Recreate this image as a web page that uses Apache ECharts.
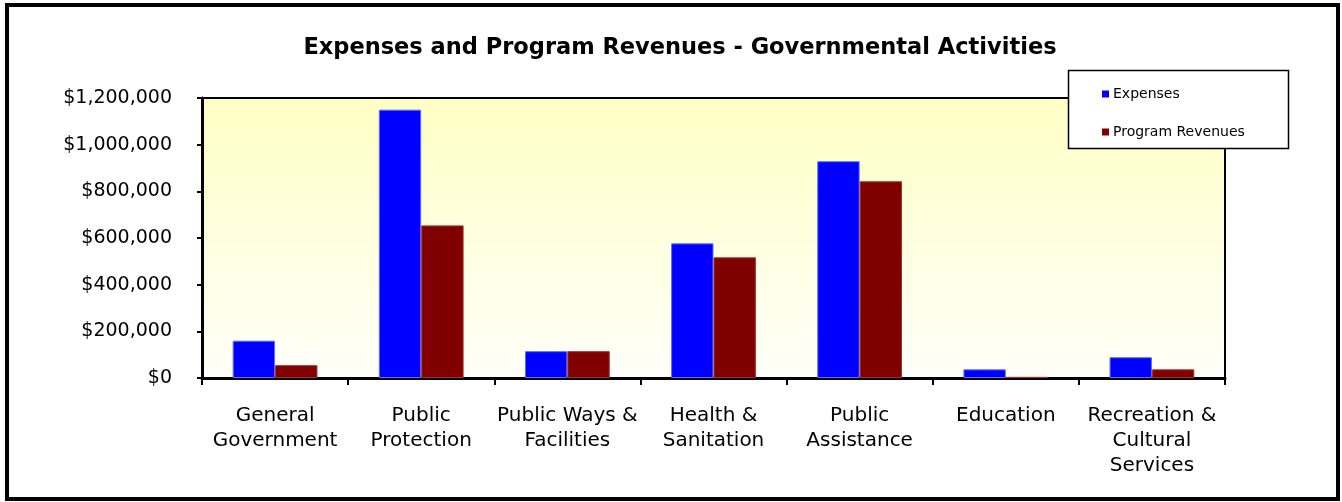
<!DOCTYPE html>
<html>
<head>
<meta charset="utf-8">
<title>Expenses and Program Revenues - Governmental Activities</title>
<script src="https://cdn.jsdelivr.net/npm/echarts@6/dist/echarts.min.js"></script>
<style>
  html, body { margin: 0; padding: 0; background: #fff; }
  #chart { width: 1342px; height: 502px; }
</style>
</head>
<body>
<div id="chart"></div>
<script>
// Activity categories along the x axis
const categories = [
  'General\nGovernment',
  'Public\nProtection',
  'Public Ways &\nFacilities',
  'Health &\nSanitation',
  'Public\nAssistance',
  'Education',
  'Recreation &\nCultural\nServices'
];

// Dollar amounts per activity
const expenses        = [160000, 1150000, 115000, 577000, 929000, 37000, 89000];
const programRevenues = [55000,   654000, 115000, 517000, 843000,  5000, 37000];

// Value axis ticks
const yTicks = [0, 200000, 400000, 600000, 800000, 1000000, 1200000];

const seriesNames = ['Expenses', 'Program Revenues'];

const FONT = 'DejaVu Sans';

const chart = echarts.init(document.getElementById('chart'), null, { renderer: 'canvas' });

const money = v => '$' + Math.round(v).toLocaleString('en-US');

chart.setOption({
  animation: false,
  backgroundColor: '#ffffff',
  textStyle: { fontFamily: FONT, color: '#000' },
  title: {
    text: 'Expenses and Program Revenues - Governmental Activities',
    left: 675,
    top: 32,
    textAlign: 'center',
    textStyle: { fontFamily: FONT, fontSize: 22.5, fontWeight: 'bold', color: '#000' }
  },
  grid: {
    left: 202,
    right: 117,
    top: 98,
    bottom: 124,
    show: true,
    borderColor: '#000',
    borderWidth: 2,
    backgroundColor: new echarts.graphic.LinearGradient(0, 0, 0, 1, [
      { offset: 0, color: '#ffffc4' },
      { offset: 1, color: '#fffffa' }
    ])
  },
  legend: {
    orient: 'vertical',
    left: 1102,
    top: 87,
    padding: 0,
    itemWidth: 7,
    itemHeight: 7,
    itemGap: 24,
    icon: 'rect',
    z: 20,
    itemStyle: { borderWidth: 0 },
    textStyle: { fontFamily: FONT, fontSize: 14, color: '#000', padding: [0, 0, 0, -1] },
    data: seriesNames
  },
  xAxis: {
    type: 'category',
    data: categories,
    axisLine: { show: true, lineStyle: { color: '#000', width: 3 } },
    axisTick: { show: true, length: 7, lineStyle: { color: '#000', width: 2 } },
    axisLabel: {
      interval: 0,
      margin: 25,
      fontFamily: FONT,
      fontSize: 20,
      lineHeight: 25,
      verticalAlign: 'top',
      color: '#000'
    },
    splitLine: { show: false }
  },
  yAxis: {
    type: 'value',
    min: yTicks[0],
    max: yTicks[yTicks.length - 1],
    interval: yTicks[1] - yTicks[0],
    axisLine: { show: true, lineStyle: { color: '#000', width: 3 } },
    axisTick: { show: true, length: 5, lineStyle: { color: '#000', width: 2 } },
    axisLabel: {
      margin: 30,
      padding: [4, 0, 0, 0],
      fontFamily: FONT,
      fontSize: 19,
      color: '#000',
      formatter: money
    },
    splitLine: { show: false }
  },
  series: [
    {
      name: seriesNames[0],
      type: 'bar',
      data: expenses,
      barGap: '0%',
      barCategoryGap: '42%',
      itemStyle: { color: '#0000ff', borderColor: '#5a6cff', borderWidth: 1 }
    },
    {
      name: seriesNames[1],
      type: 'bar',
      data: programRevenues,
      barGap: '0%',
      barCategoryGap: '42%',
      itemStyle: { color: '#800000', borderColor: '#a03030', borderWidth: 1 }
    }
  ],
  graphic: [
    {
      // legend box
      type: 'rect',
      z: 10,
      shape: { x: 1068.5, y: 70.5, width: 220, height: 78 },
      style: { fill: '#ffffff', stroke: '#000', lineWidth: 1.5 }
    },
    {
      // outer frame
      type: 'rect',
      z: 10,
      shape: { x: 7, y: 5, width: 1331, height: 494 },
      style: { fill: 'none', stroke: '#000', lineWidth: 4 }
    }
  ]
});
</script>
</body>
</html>
